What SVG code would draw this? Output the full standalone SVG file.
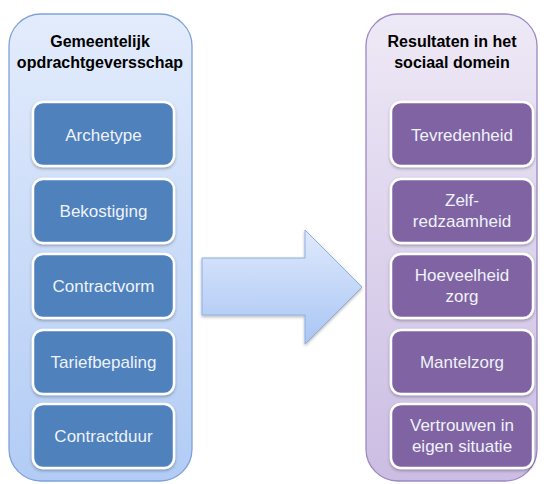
<svg xmlns="http://www.w3.org/2000/svg" width="544" height="484" viewBox="0 0 544 484">
<style>
.title{font-family:"Liberation Sans",Arial,sans-serif;font-weight:bold;font-size:16px;fill:#000;text-anchor:middle}
.lbl{font-family:"Liberation Sans",Arial,sans-serif;font-size:17px;fill:#eef2fa;text-anchor:middle}
.bbox{fill:#4f81bd;stroke:#fff;stroke-width:2.5}
.pbox{fill:#8064a2;stroke:#fff;stroke-width:2.5}
</style>
<defs>
<linearGradient id="gl" x1="0" y1="0" x2="0" y2="1">
<stop offset="0" stop-color="#e3ecfc"/>
<stop offset="1" stop-color="#b2ccf5"/>
</linearGradient>
<linearGradient id="gr" x1="0" y1="0" x2="0" y2="1">
<stop offset="0" stop-color="#eee9f6"/>
<stop offset="1" stop-color="#cbbde3"/>
</linearGradient>
<linearGradient id="ga" x1="0" y1="0" x2="0" y2="1">
<stop offset="0" stop-color="#dfe9fc"/>
<stop offset="1" stop-color="#a9c6f4"/>
</linearGradient>
<filter id="sh" x="-10%" y="-10%" width="120%" height="125%">
<feDropShadow dx="0" dy="1.5" stdDeviation="1.5" flood-color="#000" flood-opacity="0.3"/>
</filter>
</defs>
<g id="left-container">
<rect x="9" y="14" width="183" height="467" rx="32" fill="url(#gl)" stroke="#7ea2d8" stroke-width="1.3"/>
<text class="title" x="100" y="47">Gemeentelijk</text>
<text class="title" x="100" y="68">opdrachtgeversschap</text>
</g>
<g id="right-container">
<rect x="366" y="14" width="171" height="467" rx="32" fill="url(#gr)" stroke="#9c88c2" stroke-width="1.3"/>
<text class="title" x="452" y="47">Resultaten in het</text>
<text class="title" x="452" y="68">sociaal domein</text>
</g>
<g id="n-archetype"><rect class="bbox" x="33" y="102" width="141" height="64" rx="10" filter="url(#sh)"/><text class="lbl" x="103.5" y="141">Archetype</text></g>
<g id="n-bekostiging"><rect class="bbox" x="33" y="179" width="141" height="64" rx="10" filter="url(#sh)"/><text class="lbl" x="103.5" y="217">Bekostiging</text></g>
<g id="n-contractvorm"><rect class="bbox" x="33" y="254" width="141" height="64" rx="10" filter="url(#sh)"/><text class="lbl" x="103.5" y="292">Contractvorm</text></g>
<g id="n-tariefbepaling"><rect class="bbox" x="33" y="330" width="141" height="64" rx="10" filter="url(#sh)"/><text class="lbl" x="103.5" y="368">Tariefbepaling</text></g>
<g id="n-contractduur"><rect class="bbox" x="33" y="404" width="141" height="64" rx="10" filter="url(#sh)"/><text class="lbl" x="103.5" y="442">Contractduur</text></g>
<g id="n-tevredenheid"><rect class="pbox" x="391" y="102" width="142" height="64" rx="10" filter="url(#sh)"/><text class="lbl" x="462" y="141">Tevredenheid</text></g>
<g id="n-zelfredzaamheid"><rect class="pbox" x="391" y="179" width="142" height="64" rx="10" filter="url(#sh)"/><text class="lbl" x="462" y="206">Zelf-</text><text class="lbl" x="462" y="227">redzaamheid</text></g>
<g id="n-hoeveelheid"><rect class="pbox" x="391" y="254" width="142" height="64" rx="10" filter="url(#sh)"/><text class="lbl" x="462" y="281">Hoeveelheid</text><text class="lbl" x="462" y="302">zorg</text></g>
<g id="n-mantelzorg"><rect class="pbox" x="391" y="330" width="142" height="64" rx="10" filter="url(#sh)"/><text class="lbl" x="462" y="368">Mantelzorg</text></g>
<g id="n-vertrouwen"><rect class="pbox" x="391" y="404" width="142" height="64" rx="10" filter="url(#sh)"/><text class="lbl" x="462" y="431">Vertrouwen in</text><text class="lbl" x="462" y="452">eigen situatie</text></g>
<g id="connectors">
<path d="M202,258 L305,258 L305,230 L362,287 L305,344 L305,315 L202,315 Z" fill="url(#ga)" stroke="#8eaee0" stroke-width="1" filter="url(#sh)"/>
</g>
</svg>
